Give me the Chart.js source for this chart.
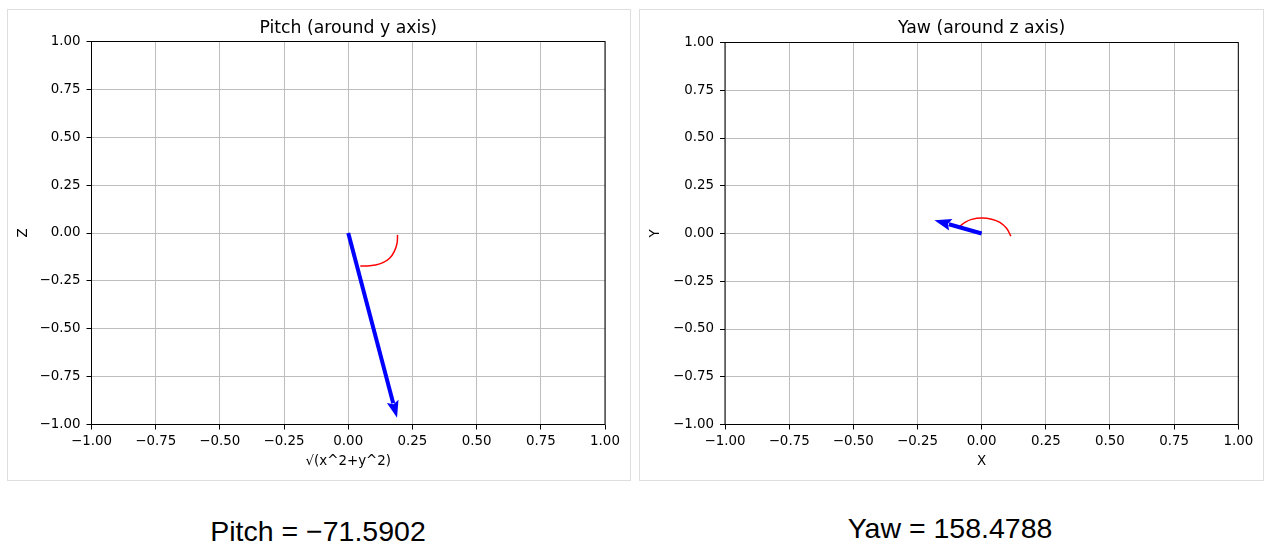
<!DOCTYPE html>
<html>
<head>
<meta charset="utf-8">
<script src="https://cdn.jsdelivr.net/npm/chart.js@4.4.1/dist/chart.umd.min.js"></script>
<style>
    body { margin: 0; background: #fff; width: 1265px; height: 549px; position: relative; overflow: hidden; }
    .panel { position: absolute; top: 9px; height: 470px; border: 1px solid #dedede; }
    .panel canvas { display: block; }
    .caption { position: absolute; font-family: "Liberation Sans", Arial, sans-serif; font-size: 28.5px; color: #000;
               transform: translate(-50%, -50%); white-space: nowrap; }
</style>
</head>
<body>
<div class="panel" style="left:7px; width:622px;"><canvas id="pitchChart" width="622" height="470"></canvas></div>
<div class="panel" style="left:639px; width:623px;"><canvas id="yawChart" width="623" height="470"></canvas></div>
<div class="caption" style="left:318px; top:531px;">Pitch = −71.5902</div>
<div class="caption" style="left:950px; top:528px;">Yaw = 158.4788</div>

<script>
// ==========================================
// data
// ==========================================
const axisTicks = [-1, -0.75, -0.5, -0.25, 0, 0.25, 0.5, 0.75, 1];

// pitch panel: vector (blue) and angle arc (red)
const pitchArrowX = [0, 0.19];
const pitchArrowY = [0, -0.965];
const pitchArcX = [0.192, 0.190, 0.179, 0.161, 0.135, 0.105, 0.073, 0.047];
const pitchArcY = [-0.010, -0.054, -0.097, -0.132, -0.155, -0.167, -0.172, -0.172];

// yaw panel
const yawArrowX = [0, -0.184];
const yawArrowY = [0, 0.070];
const yawArcX = [0.114, 0.097, 0.071, 0.039, 0.0, -0.039, -0.065, -0.087];
const yawArcY = [-0.014, 0.027, 0.058, 0.075, 0.081, 0.074, 0.058, 0.035];

const H = 470;
const tickFont = { family: 'DejaVu Sans', size: 13.4 };
const titleSize = 17.3;

function toPoints(xs, ys) {
    return xs.map((x, i) => ({ x: x, y: ys[i] }));
}

function fmtTick(v) {
    const s = Math.abs(v).toFixed(2);
    return v < -1e-9 ? '\u2212' + s : s;
}

// frame around the plot area (all four spines)
const framePlugin = {
    id: 'frame',
    afterDatasetsDraw(chart) {
        const a = chart.chartArea;
        const ctx = chart.ctx;
        ctx.save();
        ctx.strokeStyle = '#000';
        ctx.lineWidth = 1;
        ctx.strokeRect(a.left, a.top, a.right - a.left, a.bottom - a.top);
        ctx.restore();
    }
};

// quiver-like arrow drawn from the dataset's own pixel positions
const arrowPlugin = {
    id: 'arrowHead',
    afterDatasetsDraw(chart) {
        const ctx = chart.ctx;
        chart.data.datasets.forEach((ds, i) => {
            if (!ds.arrow) return;
            const pts = chart.getDatasetMeta(i).data;
            const p0 = pts[0], p1 = pts[pts.length - 1];
            const dx = p1.x - p0.x, dy = p1.y - p0.y;
            const len = Math.hypot(dx, dy);
            const ux = dx / len, uy = dy / len;
            const nx = -uy, ny = ux;
            const headLen = 17, headAxis = 14, halfW = 6;
            ctx.save();
            ctx.strokeStyle = ds.arrowColor;
            ctx.fillStyle = ds.arrowColor;
            ctx.lineWidth = 4;
            ctx.beginPath();
            ctx.moveTo(p0.x, p0.y);
            ctx.lineTo(p1.x - ux * (headAxis + 1), p1.y - uy * (headAxis + 1));
            ctx.stroke();
            ctx.beginPath();
            ctx.moveTo(p1.x, p1.y);
            ctx.lineTo(p1.x - ux * headLen + nx * halfW, p1.y - uy * headLen + ny * halfW);
            ctx.lineTo(p1.x - ux * headAxis, p1.y - uy * headAxis);
            ctx.lineTo(p1.x - ux * headLen - nx * halfW, p1.y - uy * headLen - ny * halfW);
            ctx.closePath();
            ctx.fill();
            ctx.restore();
        });
    }
};

function makeChart(canvasId, width, area, titleText, xTitle, yTitle, arrowX, arrowY, arcX, arcY) {
    const scaleBase = {
        type: 'linear',
        min: -1,
        max: 1,
        afterBuildTicks: s => { s.ticks = axisTicks.map(v => ({ value: v })); },
        ticks: { color: '#000', font: tickFont, callback: fmtTick, autoSkip: false, maxRotation: 0 },
        grid: { color: '#bdbdbd', lineWidth: 1, tickColor: '#000', tickLength: 5, tickWidth: 1 },
        border: { display: false }
    };
    const titleLine = titleSize * 1.2;
    const titleTop = 17 - titleLine / 2 + 2;

    return new Chart(document.getElementById(canvasId), {
        type: 'scatter',
        data: {
            datasets: [
                {
                    data: toPoints(arcX, arcY),
                    showLine: true,
                    borderColor: '#ff0000',
                    borderWidth: 1.5,
                    tension: 0.4,
                    pointRadius: 0
                },
                {
                    data: toPoints(arrowX, arrowY),
                    showLine: false,
                    pointRadius: 0,
                    arrow: true,
                    arrowColor: '#0000ff'
                }
            ]
        },
        options: {
            responsive: false,
            animation: false,
            layout: { padding: { left: 0, top: 0, bottom: 0, right: width - area.right } },
            plugins: {
                legend: { display: false },
                tooltip: { enabled: false },
                title: {
                    display: true,
                    fullSize: false,
                    text: titleText,
                    color: '#000',
                    font: { family: 'DejaVu Sans', size: titleSize, weight: 'normal', lineHeight: 1.2 },
                    padding: { top: titleTop, bottom: area.top - titleLine - titleTop }
                }
            },
            scales: {
                x: Object.assign({}, scaleBase, {
                    position: 'bottom',
                    ticks: Object.assign({}, scaleBase.ticks, { padding: 4 }),
                    title: { display: true, text: xTitle, color: '#000', font: tickFont, padding: { top: 0, bottom: 10 } },
                    afterFit: s => { s.height = H - area.bottom; }
                }),
                y: Object.assign({}, scaleBase, {
                    position: 'left',
                    ticks: Object.assign({}, scaleBase.ticks, { padding: 6 }),
                    title: { display: true, text: yTitle, color: '#000', font: tickFont, padding: { top: 7, bottom: 0 } },
                    afterFit: s => { s.width = area.left; }
                })
            }
        },
        plugins: [framePlugin, arrowPlugin]
    });
}

makeChart('pitchChart', 622, { left: 83.5, right: 597, top: 31.5, bottom: 414.5 },
    'Pitch (around y axis)', '\u221A(x^2+y^2)', 'Z',
    pitchArrowX, pitchArrowY, pitchArcX, pitchArcY);

makeChart('yawChart', 623, { left: 85, right: 598.3, top: 32.5, bottom: 414.5 },
    'Yaw (around z axis)', 'X', 'Y',
    yawArrowX, yawArrowY, yawArcX, yawArcY);
</script>
</body>
</html>
